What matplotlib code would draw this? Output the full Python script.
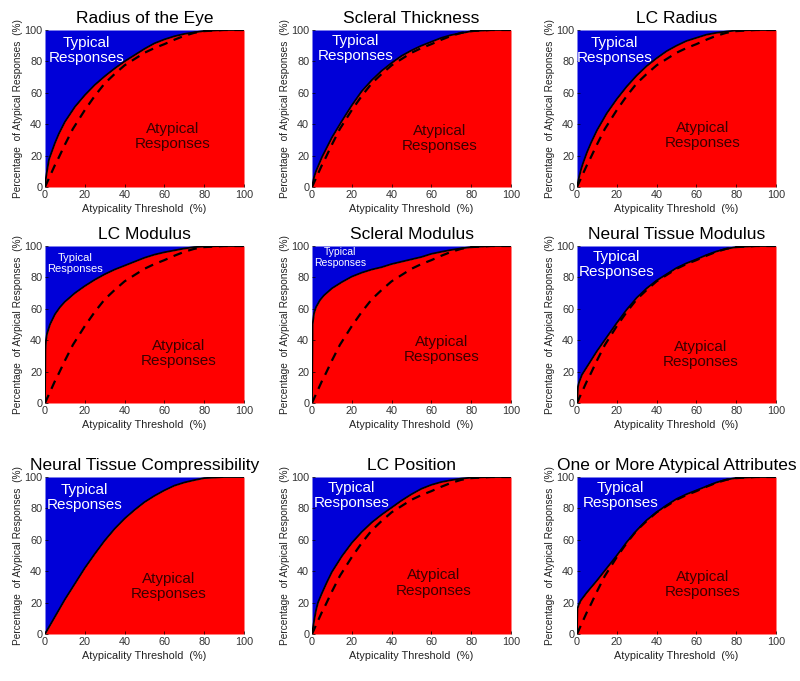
import matplotlib
matplotlib.use("Agg")
import matplotlib.pyplot as plt

plt.rcParams.update({
	"font.family": ["Liberation Sans", "DejaVu Sans"],
})

TITLES = [
	"Radius of the Eye", "Scleral Thickness", "LC Radius",
	"LC Modulus", "Scleral Modulus", "Neural Tissue Modulus",
	"Neural Tissue Compressibility", "LC Position", "One or More Atypical Attributes",
]

# reference (dashed) curve, same in every panel
ref_x = [0, 2.5, 5, 7, 10, 14, 20, 25, 30, 35, 40, 45, 50, 55, 60, 65, 70, 75, 80, 90, 100]
ref_y = [0, 7, 14, 19, 27, 37, 49, 58, 66, 72, 77.5, 81.5, 85.5, 88.5, 91, 93.8, 96.3, 98.2, 99.3, 100, 100]

radius_x = [0, 0.5, 1, 2, 3, 5, 7, 10, 15, 20, 25, 30, 35, 40, 45, 50, 55, 60, 65, 70, 75, 80, 90, 100]
radius_y = [0, 6, 10, 17.5, 21, 28, 34, 41.5, 51, 58.5, 65, 70.5, 75.5, 80, 84, 88, 91.5, 94, 96, 97.5, 98.5, 99.4, 100, 100]

thick_x = [0, 1, 2, 3, 5, 7, 10, 15, 20, 25, 30, 35, 40, 45, 50, 55, 60, 65, 70, 75, 80, 90, 100]
thick_y = [0, 6, 10, 13, 19, 24, 31.5, 42, 52, 61, 68, 74, 79, 83.5, 87, 90, 92.5, 95, 96.8, 98, 99.2, 100, 100]

lcrad_x = [0, 1, 2, 3, 5, 7, 10, 15, 20, 25, 30, 35, 40, 45, 50, 55, 60, 65, 70, 75, 80, 90, 100]
lcrad_y = [0, 6, 11, 15, 22, 28, 36, 47, 56, 64, 71, 77, 82, 86.5, 90, 93, 95, 97, 98.2, 99, 99.7, 100, 100]

lcmod_x = [0, 0.2, 0.5, 1, 2.5, 5, 7.5, 10, 15, 20, 25, 30, 35, 40, 45, 50, 55, 60, 65, 70, 75, 80, 90, 100]
lcmod_y = [0, 34, 40, 44, 50, 56.5, 61, 64.5, 70, 74.5, 78.5, 82, 85, 87.5, 90, 92.5, 94.5, 96, 97.2, 98.4, 99.3, 99.7, 100, 100]

sclmod_x = [0, 0.3, 1, 2, 4, 6, 10, 15, 20, 25, 30, 35, 40, 45, 50, 55, 60, 65, 70, 75, 80, 90, 100]
sclmod_y = [0, 50, 57, 61, 65.5, 68.5, 73, 77, 80.5, 83, 85, 86.5, 88.5, 90, 91.5, 93, 95, 96.3, 97.5, 98.5, 99.3, 100, 100]

ntmod_x = [0, 0.5, 1, 2.5, 5, 7.5, 10, 15, 20, 25, 30, 35, 40, 45, 50, 55, 60, 65, 70, 75, 80, 90, 100]
ntmod_y = [0, 10.5, 13, 18, 23, 28, 33, 42, 51, 59.5, 67, 73, 78, 82, 86, 89, 91.5, 94.2, 96.5, 98.2, 99.3, 100, 100]

ntcomp_x = [0, 5, 10, 15, 20, 25, 30, 35, 40, 45, 50, 55, 60, 65, 70, 75, 80, 90, 100]
ntcomp_y = [0, 11, 22, 32, 42, 51, 59.5, 67, 73.5, 79, 84, 88, 91.5, 94.5, 96.5, 98, 99.3, 100, 100]

lcpos_x = [0, 1, 2, 3, 5, 7.5, 10, 15, 20, 25, 30, 35, 40, 45, 50, 55, 60, 65, 70, 75, 80, 90, 100]
lcpos_y = [0, 8, 15, 20, 26, 33, 39.5, 49.5, 58, 65, 71, 76, 80.5, 85, 89, 92.5, 95, 96.8, 98, 99, 99.6, 100, 100]

any_x = [0, 0.2, 1, 2, 5, 10, 15, 20, 25, 30, 35, 40, 45, 50, 55, 60, 65, 70, 75, 80, 90, 100]
any_y = [0, 16, 19, 21.5, 26.5, 34, 42, 50, 58.5, 66, 72.5, 77.5, 82, 86, 89, 91.5, 94, 96.5, 98.3, 99.4, 100, 100]

CURVES = [
	(radius_x, radius_y), (thick_x, thick_y), (lcrad_x, lcrad_y),
	(lcmod_x, lcmod_y), (sclmod_x, sclmod_y), (ntmod_x, ntmod_y),
	(ntcomp_x, ntcomp_y), (lcpos_x, lcpos_y), (any_x, any_y),
]
# the dashed reference is hidden under the solid curve in this panel
SHOW_REF = [True, True, True, True, True, True, False, True, True]

# label placement (data coords) and size of the "Typical" label
typ_pos = [(21, 87), (22, 88), (19, 87), (15, 89), (14, 92.5), (20, 88), (20, 87), (20, 88), (22, 88)]
typ_size = [11, 11, 11, 8, 7.5, 11, 11, 11, 11]
atyp_pos = [(64, 32), (64, 31), (63, 33), (67, 31.5), (65, 34), (62, 31), (62, 30.5), (61, 32.5), (63, 31.5)]

BLUE = "#0000d8"
RED = "#ff0000"

W, H = 800, 681
fig = plt.figure(figsize=(W/100, H/100), dpi=100)

lefts = [45, 312, 577]
tops = [30, 246, 477]
aw, ah = 199, 157

for i, title in enumerate(TITLES):
	r, c = divmod(i, 3)
	ax = fig.add_axes([lefts[c]/W, (H - tops[r] - ah)/H, aw/W, ah/H])
	x, y = CURVES[i]
	ax.fill_between(x, y, 100, color=BLUE, lw=0)
	ax.fill_between(x, 0, y, color=RED, lw=0)
	if SHOW_REF[i]:
		ax.plot(ref_x, ref_y, color="k", lw=1.6, ls=(0, (4, 3)))
	ax.plot(x, y, color="k", lw=1.3)

	ax.text(*typ_pos[i], "Typical\nResponses", color="white", fontsize=typ_size[i],
		ha="center", va="center", linespacing=1.1)
	ax.text(*atyp_pos[i], "Atypical\nResponses", color="#3a0000", fontsize=11,
		ha="center", va="center", linespacing=1.1)

	ax.set_xlim(0, 100)
	ax.set_ylim(0, 100)
	ax.set_xticks(range(0, 101, 20))
	ax.set_yticks(range(0, 101, 20))
	ax.tick_params(direction="in", length=2, width=0.5, labelsize=7.8,
		labelcolor="#333333", pad=2)
	for s in ax.spines.values():
		s.set_visible(False)
	ax.set_title(title, fontsize=12.5, pad=5)
	ax.set_xlabel("Atypicality Threshold  (%)", fontsize=7.8, labelpad=3, color="#222222")
	ax.set_ylabel("Percentage  of Atypical Responses  (%)", fontsize=7.3, labelpad=1, color="#222222")

plt.savefig("out.png", dpi=100)
